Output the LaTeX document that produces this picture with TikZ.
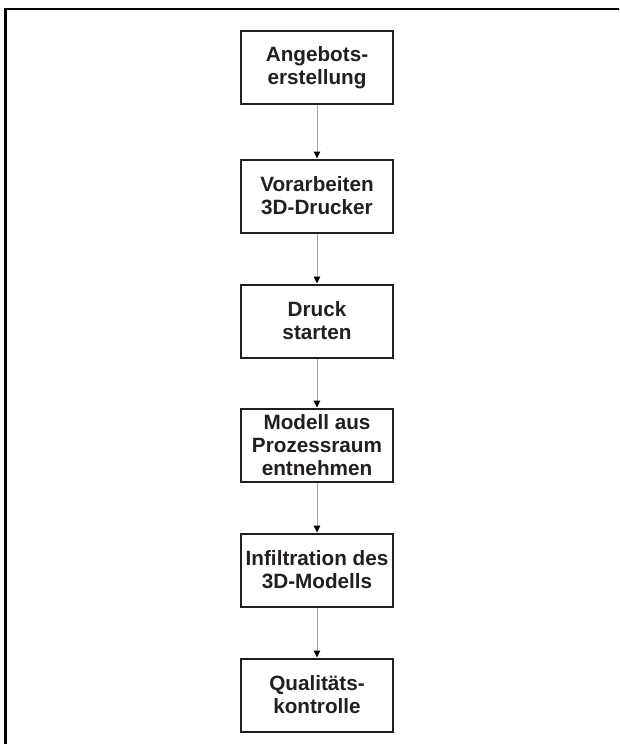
\documentclass[tikz,border=0pt]{standalone}
\usepackage{fontspec}
\setmainfont{Liberation Sans}
\usetikzlibrary{arrows.meta}
\definecolor{ink}{HTML}{231F20}
\definecolor{conn}{HTML}{A8A8A0}
\begin{document}
\begin{tikzpicture}[x=1pt,y=-1pt,
  stepbox/.style={draw=ink, line width=2pt, fill=white, minimum width=152pt, minimum height=73pt,
    align=center, text=ink, inner sep=0pt,
    font=\fontsize{20.7}{23}\selectfont\bfseries},
  flow/.style={draw=conn, line width=1pt, -{Triangle[length=7pt,width=6.5pt,color=black]}}]
\useasboundingbox (0,0) rectangle (619,744);
\begin{scope}
\clip (0,0) rectangle (619,744);
\draw[line width=2.6pt, draw=black] (5.3,760) -- (5.3,9) -- (640,9);
\end{scope}
\node[stepbox] (n1) at (317,67.5) {Angebots-\\erstellung};
\node[stepbox] (n2) at (317,196) {Vorarbeiten\\3D-Drucker};
\node[stepbox] (n3) at (317,321) {Druck\\starten};
\node[stepbox] (n4) at (317,445) {Modell aus\\Prozessraum\\entnehmen};
\node[stepbox] (n5) at (317,570) {Infiltration des\\3D-Modells};
\node[stepbox] (n6) at (317,695) {Qualitäts-\\kontrolle};
\draw[flow] (n1) -- (n2);
\draw[flow] (n2) -- (n3);
\draw[flow] (n3) -- (n4);
\draw[flow] (n4) -- (n5);
\draw[flow] (n5) -- (n6);
\end{tikzpicture}
\end{document}
